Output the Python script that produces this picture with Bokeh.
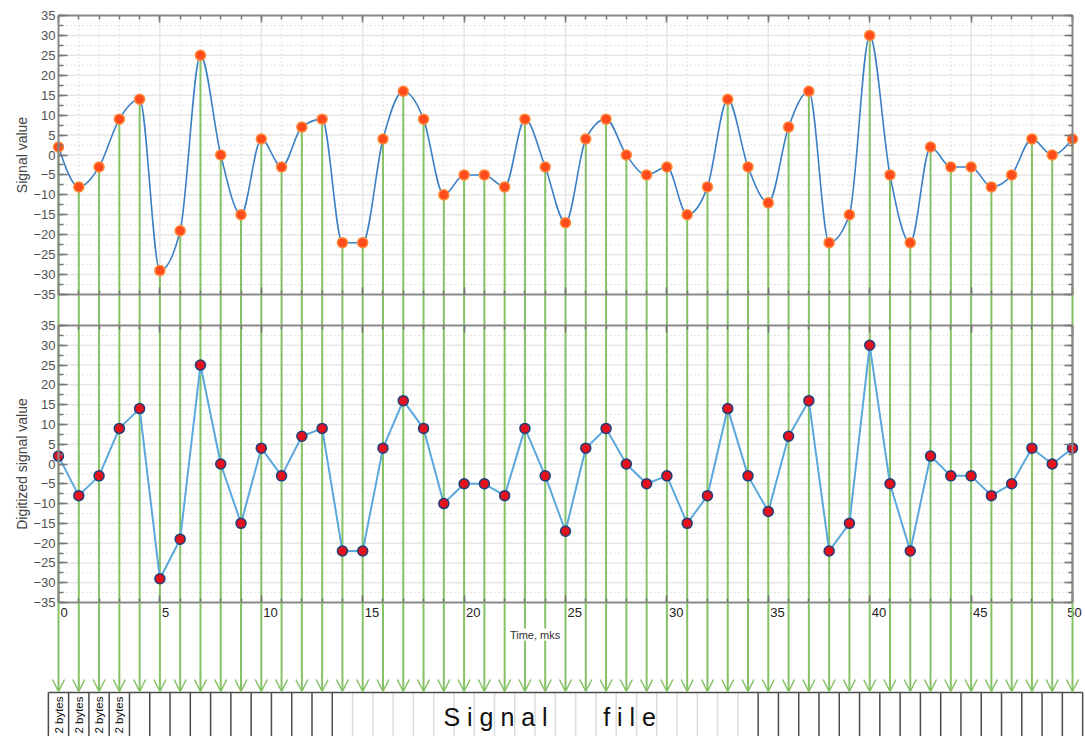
import numpy as np
from bokeh.plotting import figure
from bokeh.models import (Range1d, LinearAxis, SingleIntervalTicker, ColumnDataSource,
                          Arrow, OpenHead, Label)
from bokeh.embed import file_html
from bokeh.resources import INLINE

# ---- data -------------------------------------------------------------
time_mks = list(range(51))
signal = [2, -8, -3, 9, 14, -29, -19, 25, 0, -15, 4, -3, 7, 9, -22, -22, 4, 16, 9, -10,
          -5, -5, -8, 9, -3, -17, 4, 9, 0, -5, -3, -15, -8, 14, -3, -12, 7, 16, -22, -15,
          30, -5, -22, 2, -3, -3, -8, -5, 4, 0, 4]
y_limits = (-35, 35)
x_limits = (0, 50)
time_ticks = list(range(0, 51, 5))
time_tick_labels = [str(t) for t in time_ticks]
byte_cells = ["2 bytes", "2 bytes", "2 bytes", "2 bytes"]
file_words = ["S i g n a l", "f i l e"]

# ---- page layout (pixels) ----------------------------------------------
W, H = 1085, 736
X_LEFT, X_RIGHT = 58, 1072
TOP_PANEL = (15, 294)
BOT_PANEL = (325, 602)
ARROW_TIP = 691
FILE_TOP = 692

GREEN = "#84c265"
GRID_SOLID = "#e6e6e6"
GRID_DOT = "#c8c8c8"
FRAME = "#8a8a8a"
TICK = "#777777"
FONT = "Liberation Sans"

px_per_x = (X_RIGHT - X_LEFT) / (x_limits[1] - x_limits[0])
x_range = Range1d(x_limits[0] - X_LEFT / px_per_x, x_limits[0] + (W - X_LEFT) / px_per_x)


def panel_range(top_px, bot_px):
    per_px = (y_limits[1] - y_limits[0]) / (bot_px - top_px)
    return Range1d(y_limits[0] - (H - bot_px) * per_px, y_limits[1] + top_px * per_px)


p = figure(width=W, height=H, x_range=x_range, y_range=Range1d(H, 0),
           output_backend="svg", toolbar_location=None, min_border=0,
           x_axis_location=None, y_axis_location=None)
p.extra_y_ranges = {"top": panel_range(*TOP_PANEL), "bot": panel_range(*BOT_PANEL)}
p.grid.visible = False
p.outline_line_color = None
p.background_fill_color = "white"


# ---- grids ---------------------------------------------------------------
def draw_grid(rng):
    ys_major = np.arange(y_limits[0] + 5, y_limits[1], 5)
    ys_minor = np.arange(y_limits[0] + 2.5, y_limits[1], 5)
    xs_major = np.arange(x_limits[0] + 5, x_limits[1], 5)
    xs_minor = np.array([x for x in range(x_limits[0] + 1, x_limits[1]) if x % 5])
    p.segment(x0=x_limits[0], x1=x_limits[1], y0=ys_major, y1=ys_major,
              line_color=GRID_SOLID, line_width=1.5, y_range_name=rng)
    p.segment(x0=x_limits[0], x1=x_limits[1], y0=ys_minor, y1=ys_minor,
              line_color=GRID_DOT, line_width=1, line_dash="1 3", y_range_name=rng)
    p.segment(x0=xs_major, x1=xs_major, y0=y_limits[0], y1=y_limits[1],
              line_color=GRID_SOLID, line_width=1.5, y_range_name=rng)
    p.segment(x0=xs_minor, x1=xs_minor, y0=y_limits[0], y1=y_limits[1],
              line_color=GRID_DOT, line_width=1, line_dash="1 3", y_range_name=rng)


draw_grid("top")
draw_grid("bot")

# ---- stems and arrows ----------------------------------------------------
src = ColumnDataSource(dict(t=time_mks, v=signal))
p.segment(x0="t", y0="v", x1="t", y1=y_limits[0], source=src,
          line_color=GREEN, line_width=2, y_range_name="top")
p.segment(x0="t", y0=TOP_PANEL[1], x1="t", y1=BOT_PANEL[1], source=src,
          line_color=GREEN, line_width=2)
arrow_src = ColumnDataSource(dict(x0=time_mks, y0=[BOT_PANEL[1]] * len(time_mks),
                                  x1=time_mks, y1=[ARROW_TIP] * len(time_mks)))
p.add_layout(Arrow(x_start="x0", y_start="y0", x_end="x1", y_end="y1", source=arrow_src,
                   line_color=GREEN, line_width=2,
                   end=OpenHead(size=12, line_color=GREEN, line_width=1.5)))


# ---- smooth signal (monotone cubic through the samples) ------------------
def monotone_slopes(x, y):
    x = np.asarray(x, float)
    y = np.asarray(y, float)
    h = np.diff(x)
    s = np.diff(y) / h
    m = np.zeros_like(y)
    for i in range(1, len(y) - 1):
        s0, s1 = s[i - 1], s[i]
        pp = (s0 * h[i] + s1 * h[i - 1]) / (h[i - 1] + h[i])
        m[i] = (np.sign(s0) + np.sign(s1)) * min(abs(s0), abs(s1), 0.5 * abs(pp))
    m[0] = (3 * s[0] - m[1]) / 2
    m[-1] = (3 * s[-1] - m[-2]) / 2
    return m


tx = np.asarray(time_mks, float)
sy = np.asarray(signal, float)
m = monotone_slopes(tx, sy)
h = np.diff(tx)
curve = ColumnDataSource(dict(
    x0=tx[:-1], y0=sy[:-1], x1=tx[1:], y1=sy[1:],
    cx0=tx[:-1] + h / 3, cy0=sy[:-1] + m[:-1] * h / 3,
    cx1=tx[1:] - h / 3, cy1=sy[1:] - m[1:] * h / 3))
p.bezier(x0="x0", y0="y0", x1="x1", y1="y1", cx0="cx0", cy0="cy0", cx1="cx1", cy1="cy1",
         source=curve, line_color="#3b7fc4", line_width=1.6, y_range_name="top")
p.scatter("t", "v", source=src, size=10, fill_color="#ff4a1c", line_color="#ff8a3a",
          line_width=1.5, y_range_name="top")

# ---- digitized signal ------------------------------------------------------
p.line("t", "v", source=src, line_color="#5aa8dc", line_width=2, y_range_name="bot")
p.scatter("t", "v", source=src, size=10, fill_color="#e3121c", line_color="#1e3f7a",
          line_width=1.5, y_range_name="bot")


# ---- panel frames with inward ticks ---------------------------------------
def style_axis(ax, major_in, minor_in, labels):
    ax.axis_line_color = FRAME
    ax.axis_line_width = 2
    ax.major_tick_line_color = TICK
    ax.minor_tick_line_color = TICK
    ax.major_tick_line_width = 1.5
    ax.minor_tick_line_width = 1.5
    ax.major_tick_in = major_in
    ax.major_tick_out = 0
    ax.minor_tick_in = minor_in
    ax.minor_tick_out = 0
    ax.major_label_text_font = FONT
    ax.major_label_text_font_size = "13px"
    ax.major_label_text_color = "#505050" if labels else None
    ax.axis_label_text_font = FONT
    ax.axis_label_text_font_size = "14px"
    ax.axis_label_text_font_style = "normal"
    ax.axis_label_text_color = "#444444"


def panel_axes(rng, y_label):
    yt = lambda: SingleIntervalTicker(interval=5, num_minor_ticks=2)
    xt = lambda: SingleIntervalTicker(interval=5, num_minor_ticks=5)

    left = LinearAxis(y_range_name=rng, fixed_location=x_limits[0], bounds=y_limits,
                      ticker=yt(), axis_label=y_label)
    style_axis(left, 9, 5, True)
    left.major_label_standoff = 3
    left.axis_label_standoff = 0
    p.add_layout(left, "left")

    right = LinearAxis(y_range_name=rng, fixed_location=x_limits[1], bounds=y_limits,
                       ticker=yt())
    style_axis(right, 8, 4, False)
    p.add_layout(right, "right")

    top = LinearAxis(y_range_name=rng, fixed_location=y_limits[1], bounds=x_limits,
                     ticker=xt())
    style_axis(top, 7, 4, False)
    p.add_layout(top, "above")

    bottom = LinearAxis(y_range_name=rng, fixed_location=y_limits[0], bounds=x_limits,
                        ticker=xt())
    style_axis(bottom, 7, 4, False)
    p.add_layout(bottom, "below")


panel_axes("top", "Signal value")
panel_axes("bot", "Digitized signal value")

# time tick labels sit just right of their ticks; the last one is centred so it
# stays inside the page
tick_align = ["left" if t < x_limits[1] else "center" for t in time_ticks]
tick_src = ColumnDataSource(dict(x=time_ticks, y=[BOT_PANEL[1]] * len(time_ticks),
                                 text=time_tick_labels, align=tick_align))
p.text(x="x", y="y", text="text", text_align="align", source=tick_src,
       x_offset=2, y_offset=10, text_baseline="middle",
       text_font={"value": FONT}, text_font_size="13px", text_color="#222222")

p.add_layout(Label(x=23.5, y=634, text="Time, mks", text_align="center",
                   text_baseline="middle", text_font=FONT, text_font_size="11px",
                   text_color="#333333", background_fill_color="white"))

# ---- signal file strip ---------------------------------------------------
edges = np.arange(len(time_mks) + 1) - 0.5
edge_colors = ["#dcdcdc" if 14 < e < 34 else "#4a4a4a" for e in edges]
p.segment(x0=edges, x1=edges, y0=FILE_TOP, y1=H + 5, line_color=edge_colors, line_width=1.5)
p.segment(x0=edges[0], x1=edges[-1], y0=FILE_TOP, y1=FILE_TOP, line_color="#4a4a4a",
          line_width=1.5)
p.text(x=time_mks[:len(byte_cells)], y=[FILE_TOP + 4] * len(byte_cells), text=byte_cells,
       angle=np.pi / 2, text_align="right", text_baseline="middle",
       text_font_size="11.5px", text_color="#111111", text_font={"value": FONT})
p.text(x=[21.55, 28.16], y=[FILE_TOP + 24] * 2, text=file_words, text_align="center",
       text_baseline="middle", text_font_size="25px", text_color="#111111",
       text_font={"value": FONT})

open("out.html", "w").write(file_html(p, INLINE))
